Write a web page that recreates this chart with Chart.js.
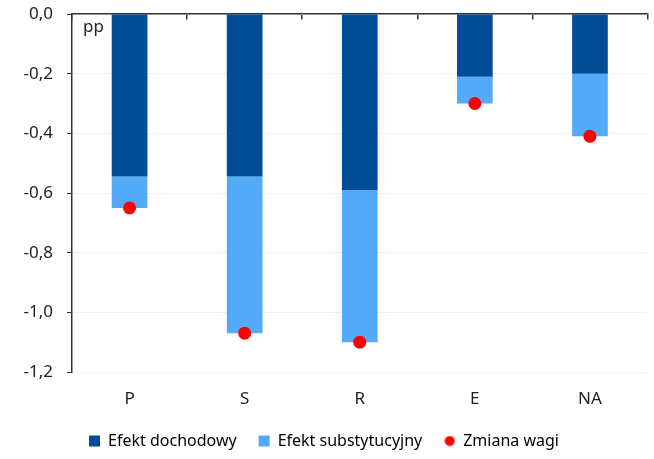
<!DOCTYPE html>
<html>
<head>
<meta charset="utf-8">
<script src="https://cdn.jsdelivr.net/npm/chart.js@4.4.1/dist/chart.umd.min.js"></script>
<style>
html,body{margin:0;padding:0;background:#fff;}
#wrap{width:654px;height:459px;position:relative;}
</style>
</head>
<body>
<div id="wrap"><canvas id="c" width="654" height="459"></canvas></div>
<script>
const categories = ['P', 'S', 'R', 'E', 'NA'];
const efektDochodowy = [-0.545, -0.545, -0.59, -0.21, -0.20];
const efektSubstytucyjny = [-0.105, -0.525, -0.51, -0.09, -0.21];
const zmianaWagi = [-0.65, -1.07, -1.10, -0.30, -0.41];
const seriesNames = ['Efekt dochodowy', 'Efekt substytucyjny', 'Zmiana wagi'];
const unitLabel = 'pp';

const FONT = "'Noto Sans', sans-serif";
const TXT = '#222222';

// small dot image for legend
const dotImg = document.createElement('canvas');
dotImg.width = 11; dotImg.height = 11;
(function(){const g = dotImg.getContext('2d'); g.fillStyle = '#ff0000'; g.beginPath(); g.arc(5.5,5.5,5,0,Math.PI*2); g.fill();})();

const unitPlugin = {
  id: 'unitLabel',
  afterDatasetsDraw(chart) {
    const {ctx, chartArea} = chart;
    ctx.save();
    ctx.font = '17px ' + FONT;
    ctx.fillStyle = TXT;
    ctx.textAlign = 'left';
    ctx.textBaseline = 'middle';
    ctx.fillText(unitLabel, chartArea.left + 11, chartArea.top + 13);
    ctx.restore();
  }
};

new Chart(document.getElementById('c'), {
  data: {
    labels: categories,
    datasets: [
      { type: 'bar', label: seriesNames[0], data: efektDochodowy, backgroundColor: '#004C97', stack: 's', order: 1, barPercentage: 0.31, categoryPercentage: 1 },
      { type: 'bar', label: seriesNames[1], data: efektSubstytucyjny, backgroundColor: '#52AAF9', stack: 's', order: 1, barPercentage: 0.31, categoryPercentage: 1 },
      { type: 'line', label: seriesNames[2], data: zmianaWagi, showLine: false, pointRadius: 6.5, pointHoverRadius: 6.5, pointStyle: 'circle', backgroundColor: '#ff0000', borderColor: '#ff0000', borderWidth: 0, stack: 'dots', order: 0 }
    ]
  },
  options: {
    responsive: false,
    animation: false,
    devicePixelRatio: 1,
    layout: { padding: { top: 14, right: 6, left: 0, bottom: 0 } },
    plugins: {
      tooltip: { enabled: false },
      legend: {
        position: 'bottom',
        labels: {
          usePointStyle: true,
          boxWidth: 11, boxHeight: 11,
          padding: 22,
          color: TXT,
          font: { family: FONT, size: 16 },
          generateLabels(chart) {
            return chart.data.datasets.map((ds, i) => ({
              text: ds.label,
              fillStyle: ds.backgroundColor,
              strokeStyle: ds.backgroundColor,
              lineWidth: 0,
              pointStyle: i === 2 ? dotImg : 'rect',
              datasetIndex: i,
              hidden: false
            }));
          }
        }
      }
    },
    scales: {
      x: {
        type: 'category',
        position: 'bottom',
        stacked: true,
        offset: true,
        grid: { display: false, drawTicks: false },
        border: { display: false },
        ticks: { color: TXT, font: { family: FONT, size: 17 }, padding: 17 },
        afterFit(scale) { scale.height = 39; scale.paddingLeft = 0; scale.paddingRight = 0; }
      },
      x2: {
        type: 'category',
        labels: categories,
        position: { y: 0 },
        offset: true,
        grid: { display: true, drawOnChartArea: false, offset: true, tickLength: 5, color: '#333333', tickColor: '#333333', lineWidth: 1.5 },
        border: { display: true, color: '#333333', width: 1.5 },
        ticks: { display: false },
        afterFit(scale) { scale.paddingLeft = 0; scale.paddingRight = 0; }
      },
      y: {
        type: 'linear',
        stacked: true,
        min: -1.2,
        max: 0,
        ticks: {
          stepSize: 0.2,
          color: TXT,
          font: { family: FONT, size: 17 },
          padding: 14,
          callback: (v) => (Math.abs(v) < 1e-9 ? 0 : v).toFixed(1).replace('.', ',')
        },
        grid: { color: '#f0f0f0', tickColor: '#333333', tickLength: 5, lineWidth: 1 },
        border: { display: true, color: '#333333', width: 1.5 },
        afterFit(scale) { scale.width = 72; scale.paddingTop = 0; scale.paddingBottom = 0; }
      }
    }
  },
  plugins: [unitPlugin]
});
</script>
</body>
</html>
